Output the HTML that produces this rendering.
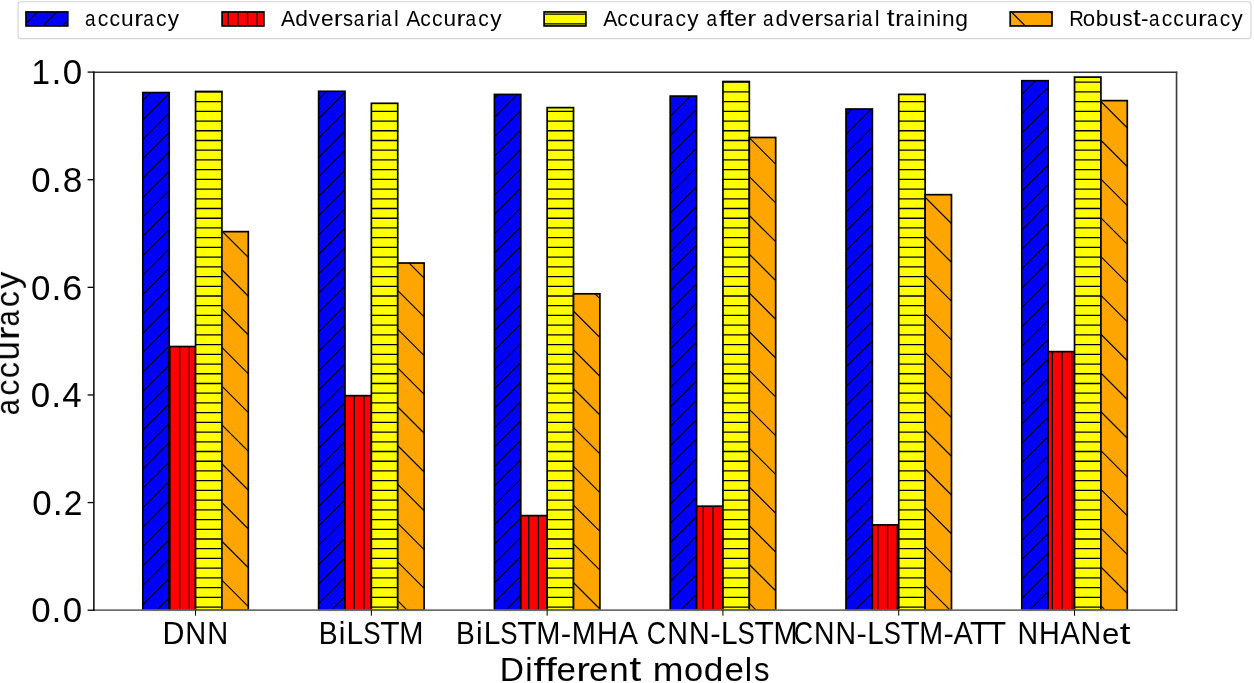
<!DOCTYPE html><html><head><meta charset="utf-8"><style>html,body{margin:0;padding:0;background:#fff;overflow:hidden}svg{display:block}text{font-kerning:none}</style></head><body><svg width="1254" height="683" viewBox="0 0 1254 683">
<rect width="1254" height="683" fill="#fff"/>
<rect x="18.1" y="1.7" width="1232.9" height="36.9" rx="2.5" fill="#fff" stroke="#d4d4d4" stroke-width="1.1"/>
<clipPath id="c0"><rect x="26.00" y="11.95" width="41.80" height="14.00"/></clipPath>
<rect x="26.00" y="11.95" width="41.80" height="14.00" fill="#0000ff"/>
<path clip-path="url(#c0)" d="M21.00 -10.30L72.80 -62.10M21.00 9.09L72.80 -42.71M21.00 28.49L72.80 -23.31M21.00 47.88L72.80 -3.92M21.00 67.28L72.80 15.48M21.00 86.67L72.80 34.87M21.00 106.06L72.80 54.26" stroke="#000" stroke-width="1.15" fill="none"/>
<rect x="26.00" y="11.95" width="41.80" height="14.00" fill="none" stroke="#000" stroke-width="1.7"/>
<clipPath id="c1"><rect x="222.10" y="11.95" width="41.80" height="14.00"/></clipPath>
<rect x="222.10" y="11.95" width="41.80" height="14.00" fill="#ff0000"/>
<path clip-path="url(#c1)" d="M228.13 9.95V27.95M237.83 9.95V27.95M247.52 9.95V27.95M257.22 9.95V27.95" stroke="#000" stroke-width="1.3" fill="none"/>
<rect x="222.10" y="11.95" width="41.80" height="14.00" fill="none" stroke="#000" stroke-width="1.7"/>
<clipPath id="c2"><rect x="544.10" y="11.95" width="41.80" height="14.00"/></clipPath>
<rect x="544.10" y="11.95" width="41.80" height="14.00" fill="#ffff00"/>
<path clip-path="url(#c2)" d="M542.10 14.12H587.90M542.10 23.84H587.90" stroke="#000" stroke-width="1.3" fill="none"/>
<rect x="544.10" y="11.95" width="41.80" height="14.00" fill="none" stroke="#000" stroke-width="1.7"/>
<clipPath id="c3"><rect x="1010.20" y="11.95" width="41.80" height="14.00"/></clipPath>
<rect x="1010.20" y="11.95" width="41.80" height="14.00" fill="#ffa500"/>
<path clip-path="url(#c3)" d="M1005.20 -110.55L1057.00 -58.75M1005.20 -71.76L1057.00 -19.96M1005.20 -32.98L1057.00 18.82M1005.20 5.81L1057.00 57.61M1005.20 44.60L1057.00 96.40M1005.20 83.39L1057.00 135.19" stroke="#000" stroke-width="1.15" fill="none"/>
<rect x="1010.20" y="11.95" width="41.80" height="14.00" fill="none" stroke="#000" stroke-width="1.7"/>
<clipPath id="c4"><rect x="142.82" y="92.55" width="26.37" height="517.65"/></clipPath>
<rect x="142.82" y="92.55" width="26.37" height="517.65" fill="#0000ff"/>
<path clip-path="url(#c4)" d="M137.82 66.82L174.19 30.45M137.82 86.21L174.19 49.84M137.82 105.61L174.19 69.24M137.82 125.00L174.19 88.63M137.82 144.39L174.19 108.02M137.82 163.79L174.19 127.42M137.82 183.18L174.19 146.81M137.82 202.58L174.19 166.21M137.82 221.97L174.19 185.60M137.82 241.36L174.19 204.99M137.82 260.76L174.19 224.39M137.82 280.15L174.19 243.78M137.82 299.55L174.19 263.18M137.82 318.94L174.19 282.57M137.82 338.33L174.19 301.96M137.82 357.73L174.19 321.36M137.82 377.12L174.19 340.75M137.82 396.52L174.19 360.15M137.82 415.91L174.19 379.54M137.82 435.30L174.19 398.93M137.82 454.70L174.19 418.33M137.82 474.09L174.19 437.72M137.82 493.49L174.19 457.12M137.82 512.88L174.19 476.51M137.82 532.27L174.19 495.90M137.82 551.67L174.19 515.30M137.82 571.06L174.19 534.69M137.82 590.46L174.19 554.09M137.82 609.85L174.19 573.48M137.82 629.24L174.19 592.87M137.82 648.64L174.19 612.27M137.82 668.03L174.19 631.66" stroke="#000" stroke-width="1.15" fill="none"/>
<rect x="142.82" y="92.55" width="26.37" height="517.65" fill="none" stroke="#000" stroke-width="1.7"/>
<clipPath id="c5"><rect x="318.62" y="91.31" width="26.37" height="518.89"/></clipPath>
<rect x="318.62" y="91.31" width="26.37" height="518.89" fill="#0000ff"/>
<path clip-path="url(#c5)" d="M313.62 65.57L349.99 29.20M313.62 84.96L349.99 48.59M313.62 104.36L349.99 67.99M313.62 123.75L349.99 87.38M313.62 143.14L349.99 106.77M313.62 162.54L349.99 126.17M313.62 181.93L349.99 145.56M313.62 201.33L349.99 164.96M313.62 220.72L349.99 184.35M313.62 240.11L349.99 203.74M313.62 259.51L349.99 223.14M313.62 278.90L349.99 242.53M313.62 298.30L349.99 261.93M313.62 317.69L349.99 281.32M313.62 337.08L349.99 300.71M313.62 356.48L349.99 320.11M313.62 375.87L349.99 339.50M313.62 395.27L349.99 358.90M313.62 414.66L349.99 378.29M313.62 434.05L349.99 397.68M313.62 453.45L349.99 417.08M313.62 472.84L349.99 436.47M313.62 492.24L349.99 455.87M313.62 511.63L349.99 475.26M313.62 531.02L349.99 494.65M313.62 550.42L349.99 514.05M313.62 569.81L349.99 533.44M313.62 589.21L349.99 552.84M313.62 608.60L349.99 572.23M313.62 627.99L349.99 591.62M313.62 647.39L349.99 611.02M313.62 666.78L349.99 630.41" stroke="#000" stroke-width="1.15" fill="none"/>
<rect x="318.62" y="91.31" width="26.37" height="518.89" fill="none" stroke="#000" stroke-width="1.7"/>
<clipPath id="c6"><rect x="494.41" y="94.43" width="26.37" height="515.77"/></clipPath>
<rect x="494.41" y="94.43" width="26.37" height="515.77" fill="#0000ff"/>
<path clip-path="url(#c6)" d="M489.41 64.32L525.78 27.95M489.41 83.71L525.78 47.34M489.41 103.11L525.78 66.74M489.41 122.50L525.78 86.13M489.41 141.89L525.78 105.53M489.41 161.29L525.78 124.92M489.41 180.68L525.78 144.31M489.41 200.08L525.78 163.71M489.41 219.47L525.78 183.10M489.41 238.86L525.78 202.50M489.41 258.26L525.78 221.89M489.41 277.65L525.78 241.28M489.41 297.05L525.78 260.68M489.41 316.44L525.78 280.07M489.41 335.83L525.78 299.47M489.41 355.23L525.78 318.86M489.41 374.62L525.78 338.25M489.41 394.02L525.78 357.65M489.41 413.41L525.78 377.04M489.41 432.80L525.78 396.44M489.41 452.20L525.78 415.83M489.41 471.59L525.78 435.22M489.41 490.99L525.78 454.62M489.41 510.38L525.78 474.01M489.41 529.77L525.78 493.41M489.41 549.17L525.78 512.80M489.41 568.56L525.78 532.19M489.41 587.96L525.78 551.59M489.41 607.35L525.78 570.98M489.41 626.74L525.78 590.38M489.41 646.14L525.78 609.77M489.41 665.53L525.78 629.16" stroke="#000" stroke-width="1.15" fill="none"/>
<rect x="494.41" y="94.43" width="26.37" height="515.77" fill="none" stroke="#000" stroke-width="1.7"/>
<clipPath id="c7"><rect x="670.21" y="96.10" width="26.37" height="514.10"/></clipPath>
<rect x="670.21" y="96.10" width="26.37" height="514.10" fill="#0000ff"/>
<path clip-path="url(#c7)" d="M665.21 63.07L701.58 26.70M665.21 82.46L701.58 46.09M665.21 101.86L701.58 65.49M665.21 121.25L701.58 84.88M665.21 140.64L701.58 104.28M665.21 160.04L701.58 123.67M665.21 179.43L701.58 143.06M665.21 198.83L701.58 162.46M665.21 218.22L701.58 181.85M665.21 237.61L701.58 201.25M665.21 257.01L701.58 220.64M665.21 276.40L701.58 240.03M665.21 295.80L701.58 259.43M665.21 315.19L701.58 278.82M665.21 334.58L701.58 298.22M665.21 353.98L701.58 317.61M665.21 373.37L701.58 337.00M665.21 392.77L701.58 356.40M665.21 412.16L701.58 375.79M665.21 431.55L701.58 395.19M665.21 450.95L701.58 414.58M665.21 470.34L701.58 433.97M665.21 489.74L701.58 453.37M665.21 509.13L701.58 472.76M665.21 528.52L701.58 492.16M665.21 547.92L701.58 511.55M665.21 567.31L701.58 530.94M665.21 586.71L701.58 550.34M665.21 606.10L701.58 569.73M665.21 625.49L701.58 589.13M665.21 644.89L701.58 608.52M665.21 664.28L701.58 627.91" stroke="#000" stroke-width="1.15" fill="none"/>
<rect x="670.21" y="96.10" width="26.37" height="514.10" fill="none" stroke="#000" stroke-width="1.7"/>
<clipPath id="c8"><rect x="846.00" y="109.01" width="26.37" height="501.19"/></clipPath>
<rect x="846.00" y="109.01" width="26.37" height="501.19" fill="#0000ff"/>
<path clip-path="url(#c8)" d="M841.00 81.21L877.37 44.84M841.00 100.61L877.37 64.24M841.00 120.00L877.37 83.63M841.00 139.40L877.37 103.03M841.00 158.79L877.37 122.42M841.00 178.18L877.37 141.81M841.00 197.58L877.37 161.21M841.00 216.97L877.37 180.60M841.00 236.37L877.37 200.00M841.00 255.76L877.37 219.39M841.00 275.15L877.37 238.78M841.00 294.55L877.37 258.18M841.00 313.94L877.37 277.57M841.00 333.34L877.37 296.97M841.00 352.73L877.37 316.36M841.00 372.12L877.37 335.75M841.00 391.52L877.37 355.15M841.00 410.91L877.37 374.54M841.00 430.31L877.37 393.94M841.00 449.70L877.37 413.33M841.00 469.09L877.37 432.72M841.00 488.49L877.37 452.12M841.00 507.88L877.37 471.51M841.00 527.28L877.37 490.91M841.00 546.67L877.37 510.30M841.00 566.06L877.37 529.69M841.00 585.46L877.37 549.09M841.00 604.85L877.37 568.48M841.00 624.25L877.37 587.88M841.00 643.64L877.37 607.27M841.00 663.03L877.37 626.66" stroke="#000" stroke-width="1.15" fill="none"/>
<rect x="846.00" y="109.01" width="26.37" height="501.19" fill="none" stroke="#000" stroke-width="1.7"/>
<clipPath id="c9"><rect x="1021.80" y="80.71" width="26.37" height="529.49"/></clipPath>
<rect x="1021.80" y="80.71" width="26.37" height="529.49" fill="#0000ff"/>
<path clip-path="url(#c9)" d="M1016.80 60.57L1053.17 24.20M1016.80 79.96L1053.17 43.59M1016.80 99.36L1053.17 62.99M1016.80 118.75L1053.17 82.38M1016.80 138.15L1053.17 101.78M1016.80 157.54L1053.17 121.17M1016.80 176.93L1053.17 140.56M1016.80 196.33L1053.17 159.96M1016.80 215.72L1053.17 179.35M1016.80 235.12L1053.17 198.75M1016.80 254.51L1053.17 218.14M1016.80 273.90L1053.17 237.53M1016.80 293.30L1053.17 256.93M1016.80 312.69L1053.17 276.32M1016.80 332.09L1053.17 295.72M1016.80 351.48L1053.17 315.11M1016.80 370.87L1053.17 334.50M1016.80 390.27L1053.17 353.90M1016.80 409.66L1053.17 373.29M1016.80 429.06L1053.17 392.69M1016.80 448.45L1053.17 412.08M1016.80 467.84L1053.17 431.47M1016.80 487.24L1053.17 450.87M1016.80 506.63L1053.17 470.26M1016.80 526.03L1053.17 489.66M1016.80 545.42L1053.17 509.05M1016.80 564.81L1053.17 528.44M1016.80 584.21L1053.17 547.84M1016.80 603.60L1053.17 567.23M1016.80 623.00L1053.17 586.63M1016.80 642.39L1053.17 606.02M1016.80 661.78L1053.17 625.41" stroke="#000" stroke-width="1.15" fill="none"/>
<rect x="1021.80" y="80.71" width="26.37" height="529.49" fill="none" stroke="#000" stroke-width="1.7"/>
<clipPath id="c10"><rect x="169.19" y="346.53" width="26.37" height="263.67"/></clipPath>
<rect x="169.19" y="346.53" width="26.37" height="263.67" fill="#ff0000"/>
<path clip-path="url(#c10)" d="M169.95 344.53V612.20M179.65 344.53V612.20M189.34 344.53V612.20" stroke="#000" stroke-width="1.3" fill="none"/>
<rect x="169.19" y="346.53" width="26.37" height="263.67" fill="none" stroke="#000" stroke-width="1.7"/>
<clipPath id="c11"><rect x="344.99" y="395.66" width="26.37" height="214.54"/></clipPath>
<rect x="344.99" y="395.66" width="26.37" height="214.54" fill="#ff0000"/>
<path clip-path="url(#c11)" d="M344.50 393.66V612.20M354.19 393.66V612.20M363.89 393.66V612.20" stroke="#000" stroke-width="1.3" fill="none"/>
<rect x="344.99" y="395.66" width="26.37" height="214.54" fill="none" stroke="#000" stroke-width="1.7"/>
<clipPath id="c12"><rect x="520.78" y="515.60" width="26.37" height="94.60"/></clipPath>
<rect x="520.78" y="515.60" width="26.37" height="94.60" fill="#ff0000"/>
<path clip-path="url(#c12)" d="M519.04 513.60V612.20M528.74 513.60V612.20M538.43 513.60V612.20M548.13 513.60V612.20" stroke="#000" stroke-width="1.3" fill="none"/>
<rect x="520.78" y="515.60" width="26.37" height="94.60" fill="none" stroke="#000" stroke-width="1.7"/>
<clipPath id="c13"><rect x="696.58" y="506.19" width="26.37" height="104.01"/></clipPath>
<rect x="696.58" y="506.19" width="26.37" height="104.01" fill="#ff0000"/>
<path clip-path="url(#c13)" d="M703.28 504.19V612.20M712.98 504.19V612.20M722.68 504.19V612.20" stroke="#000" stroke-width="1.3" fill="none"/>
<rect x="696.58" y="506.19" width="26.37" height="104.01" fill="none" stroke="#000" stroke-width="1.7"/>
<clipPath id="c14"><rect x="872.37" y="524.91" width="26.37" height="85.29"/></clipPath>
<rect x="872.37" y="524.91" width="26.37" height="85.29" fill="#ff0000"/>
<path clip-path="url(#c14)" d="M877.83 522.91V612.20M887.53 522.91V612.20M897.22 522.91V612.20" stroke="#000" stroke-width="1.3" fill="none"/>
<rect x="872.37" y="524.91" width="26.37" height="85.29" fill="none" stroke="#000" stroke-width="1.7"/>
<clipPath id="c15"><rect x="1048.17" y="351.64" width="26.37" height="258.56"/></clipPath>
<rect x="1048.17" y="351.64" width="26.37" height="258.56" fill="#ff0000"/>
<path clip-path="url(#c15)" d="M1052.38 349.64V612.20M1062.07 349.64V612.20M1071.77 349.64V612.20" stroke="#000" stroke-width="1.3" fill="none"/>
<rect x="1048.17" y="351.64" width="26.37" height="258.56" fill="none" stroke="#000" stroke-width="1.7"/>
<clipPath id="c16"><rect x="195.56" y="91.47" width="26.37" height="518.73"/></clipPath>
<rect x="195.56" y="91.47" width="26.37" height="518.73" fill="#ffff00"/>
<path clip-path="url(#c16)" d="M193.56 91.88H223.93M193.56 101.60H223.93M193.56 111.32H223.93M193.56 121.04H223.93M193.56 130.76H223.93M193.56 140.48H223.93M193.56 150.20H223.93M193.56 159.92H223.93M193.56 169.64H223.93M193.56 179.36H223.93M193.56 189.08H223.93M193.56 198.80H223.93M193.56 208.52H223.93M193.56 218.24H223.93M193.56 227.96H223.93M193.56 237.68H223.93M193.56 247.40H223.93M193.56 257.12H223.93M193.56 266.84H223.93M193.56 276.56H223.93M193.56 286.28H223.93M193.56 296.00H223.93M193.56 305.72H223.93M193.56 315.44H223.93M193.56 325.16H223.93M193.56 334.88H223.93M193.56 344.60H223.93M193.56 354.32H223.93M193.56 364.04H223.93M193.56 373.76H223.93M193.56 383.48H223.93M193.56 393.20H223.93M193.56 402.92H223.93M193.56 412.64H223.93M193.56 422.36H223.93M193.56 432.08H223.93M193.56 441.80H223.93M193.56 451.52H223.93M193.56 461.24H223.93M193.56 470.96H223.93M193.56 480.68H223.93M193.56 490.40H223.93M193.56 500.12H223.93M193.56 509.84H223.93M193.56 519.56H223.93M193.56 529.28H223.93M193.56 539.00H223.93M193.56 548.72H223.93M193.56 558.44H223.93M193.56 568.16H223.93M193.56 577.88H223.93M193.56 587.60H223.93M193.56 597.32H223.93M193.56 607.04H223.93" stroke="#000" stroke-width="1.3" fill="none"/>
<rect x="195.56" y="91.47" width="26.37" height="518.73" fill="none" stroke="#000" stroke-width="1.7"/>
<clipPath id="c17"><rect x="371.36" y="103.31" width="26.37" height="506.89"/></clipPath>
<rect x="371.36" y="103.31" width="26.37" height="506.89" fill="#ffff00"/>
<path clip-path="url(#c17)" d="M369.36 101.60H399.73M369.36 111.32H399.73M369.36 121.04H399.73M369.36 130.76H399.73M369.36 140.48H399.73M369.36 150.20H399.73M369.36 159.92H399.73M369.36 169.64H399.73M369.36 179.36H399.73M369.36 189.08H399.73M369.36 198.80H399.73M369.36 208.52H399.73M369.36 218.24H399.73M369.36 227.96H399.73M369.36 237.68H399.73M369.36 247.40H399.73M369.36 257.12H399.73M369.36 266.84H399.73M369.36 276.56H399.73M369.36 286.28H399.73M369.36 296.00H399.73M369.36 305.72H399.73M369.36 315.44H399.73M369.36 325.16H399.73M369.36 334.88H399.73M369.36 344.60H399.73M369.36 354.32H399.73M369.36 364.04H399.73M369.36 373.76H399.73M369.36 383.48H399.73M369.36 393.20H399.73M369.36 402.92H399.73M369.36 412.64H399.73M369.36 422.36H399.73M369.36 432.08H399.73M369.36 441.80H399.73M369.36 451.52H399.73M369.36 461.24H399.73M369.36 470.96H399.73M369.36 480.68H399.73M369.36 490.40H399.73M369.36 500.12H399.73M369.36 509.84H399.73M369.36 519.56H399.73M369.36 529.28H399.73M369.36 539.00H399.73M369.36 548.72H399.73M369.36 558.44H399.73M369.36 568.16H399.73M369.36 577.88H399.73M369.36 587.60H399.73M369.36 597.32H399.73M369.36 607.04H399.73" stroke="#000" stroke-width="1.3" fill="none"/>
<rect x="371.36" y="103.31" width="26.37" height="506.89" fill="none" stroke="#000" stroke-width="1.7"/>
<clipPath id="c18"><rect x="547.15" y="107.61" width="26.37" height="502.59"/></clipPath>
<rect x="547.15" y="107.61" width="26.37" height="502.59" fill="#ffff00"/>
<path clip-path="url(#c18)" d="M545.15 111.32H575.52M545.15 121.04H575.52M545.15 130.76H575.52M545.15 140.48H575.52M545.15 150.20H575.52M545.15 159.92H575.52M545.15 169.64H575.52M545.15 179.36H575.52M545.15 189.08H575.52M545.15 198.80H575.52M545.15 208.52H575.52M545.15 218.24H575.52M545.15 227.96H575.52M545.15 237.68H575.52M545.15 247.40H575.52M545.15 257.12H575.52M545.15 266.84H575.52M545.15 276.56H575.52M545.15 286.28H575.52M545.15 296.00H575.52M545.15 305.72H575.52M545.15 315.44H575.52M545.15 325.16H575.52M545.15 334.88H575.52M545.15 344.60H575.52M545.15 354.32H575.52M545.15 364.04H575.52M545.15 373.76H575.52M545.15 383.48H575.52M545.15 393.20H575.52M545.15 402.92H575.52M545.15 412.64H575.52M545.15 422.36H575.52M545.15 432.08H575.52M545.15 441.80H575.52M545.15 451.52H575.52M545.15 461.24H575.52M545.15 470.96H575.52M545.15 480.68H575.52M545.15 490.40H575.52M545.15 500.12H575.52M545.15 509.84H575.52M545.15 519.56H575.52M545.15 529.28H575.52M545.15 539.00H575.52M545.15 548.72H575.52M545.15 558.44H575.52M545.15 568.16H575.52M545.15 577.88H575.52M545.15 587.60H575.52M545.15 597.32H575.52M545.15 607.04H575.52" stroke="#000" stroke-width="1.3" fill="none"/>
<rect x="547.15" y="107.61" width="26.37" height="502.59" fill="none" stroke="#000" stroke-width="1.7"/>
<clipPath id="c19"><rect x="722.95" y="81.52" width="26.37" height="528.68"/></clipPath>
<rect x="722.95" y="81.52" width="26.37" height="528.68" fill="#ffff00"/>
<path clip-path="url(#c19)" d="M720.95 82.16H751.32M720.95 91.88H751.32M720.95 101.60H751.32M720.95 111.32H751.32M720.95 121.04H751.32M720.95 130.76H751.32M720.95 140.48H751.32M720.95 150.20H751.32M720.95 159.92H751.32M720.95 169.64H751.32M720.95 179.36H751.32M720.95 189.08H751.32M720.95 198.80H751.32M720.95 208.52H751.32M720.95 218.24H751.32M720.95 227.96H751.32M720.95 237.68H751.32M720.95 247.40H751.32M720.95 257.12H751.32M720.95 266.84H751.32M720.95 276.56H751.32M720.95 286.28H751.32M720.95 296.00H751.32M720.95 305.72H751.32M720.95 315.44H751.32M720.95 325.16H751.32M720.95 334.88H751.32M720.95 344.60H751.32M720.95 354.32H751.32M720.95 364.04H751.32M720.95 373.76H751.32M720.95 383.48H751.32M720.95 393.20H751.32M720.95 402.92H751.32M720.95 412.64H751.32M720.95 422.36H751.32M720.95 432.08H751.32M720.95 441.80H751.32M720.95 451.52H751.32M720.95 461.24H751.32M720.95 470.96H751.32M720.95 480.68H751.32M720.95 490.40H751.32M720.95 500.12H751.32M720.95 509.84H751.32M720.95 519.56H751.32M720.95 529.28H751.32M720.95 539.00H751.32M720.95 548.72H751.32M720.95 558.44H751.32M720.95 568.16H751.32M720.95 577.88H751.32M720.95 587.60H751.32M720.95 597.32H751.32M720.95 607.04H751.32" stroke="#000" stroke-width="1.3" fill="none"/>
<rect x="722.95" y="81.52" width="26.37" height="528.68" fill="none" stroke="#000" stroke-width="1.7"/>
<clipPath id="c20"><rect x="898.74" y="94.38" width="26.37" height="515.82"/></clipPath>
<rect x="898.74" y="94.38" width="26.37" height="515.82" fill="#ffff00"/>
<path clip-path="url(#c20)" d="M896.74 101.60H927.11M896.74 111.32H927.11M896.74 121.04H927.11M896.74 130.76H927.11M896.74 140.48H927.11M896.74 150.20H927.11M896.74 159.92H927.11M896.74 169.64H927.11M896.74 179.36H927.11M896.74 189.08H927.11M896.74 198.80H927.11M896.74 208.52H927.11M896.74 218.24H927.11M896.74 227.96H927.11M896.74 237.68H927.11M896.74 247.40H927.11M896.74 257.12H927.11M896.74 266.84H927.11M896.74 276.56H927.11M896.74 286.28H927.11M896.74 296.00H927.11M896.74 305.72H927.11M896.74 315.44H927.11M896.74 325.16H927.11M896.74 334.88H927.11M896.74 344.60H927.11M896.74 354.32H927.11M896.74 364.04H927.11M896.74 373.76H927.11M896.74 383.48H927.11M896.74 393.20H927.11M896.74 402.92H927.11M896.74 412.64H927.11M896.74 422.36H927.11M896.74 432.08H927.11M896.74 441.80H927.11M896.74 451.52H927.11M896.74 461.24H927.11M896.74 470.96H927.11M896.74 480.68H927.11M896.74 490.40H927.11M896.74 500.12H927.11M896.74 509.84H927.11M896.74 519.56H927.11M896.74 529.28H927.11M896.74 539.00H927.11M896.74 548.72H927.11M896.74 558.44H927.11M896.74 568.16H927.11M896.74 577.88H927.11M896.74 587.60H927.11M896.74 597.32H927.11M896.74 607.04H927.11" stroke="#000" stroke-width="1.3" fill="none"/>
<rect x="898.74" y="94.38" width="26.37" height="515.82" fill="none" stroke="#000" stroke-width="1.7"/>
<clipPath id="c21"><rect x="1074.54" y="77.10" width="26.37" height="533.10"/></clipPath>
<rect x="1074.54" y="77.10" width="26.37" height="533.10" fill="#ffff00"/>
<path clip-path="url(#c21)" d="M1072.54 82.16H1102.91M1072.54 91.88H1102.91M1072.54 101.60H1102.91M1072.54 111.32H1102.91M1072.54 121.04H1102.91M1072.54 130.76H1102.91M1072.54 140.48H1102.91M1072.54 150.20H1102.91M1072.54 159.92H1102.91M1072.54 169.64H1102.91M1072.54 179.36H1102.91M1072.54 189.08H1102.91M1072.54 198.80H1102.91M1072.54 208.52H1102.91M1072.54 218.24H1102.91M1072.54 227.96H1102.91M1072.54 237.68H1102.91M1072.54 247.40H1102.91M1072.54 257.12H1102.91M1072.54 266.84H1102.91M1072.54 276.56H1102.91M1072.54 286.28H1102.91M1072.54 296.00H1102.91M1072.54 305.72H1102.91M1072.54 315.44H1102.91M1072.54 325.16H1102.91M1072.54 334.88H1102.91M1072.54 344.60H1102.91M1072.54 354.32H1102.91M1072.54 364.04H1102.91M1072.54 373.76H1102.91M1072.54 383.48H1102.91M1072.54 393.20H1102.91M1072.54 402.92H1102.91M1072.54 412.64H1102.91M1072.54 422.36H1102.91M1072.54 432.08H1102.91M1072.54 441.80H1102.91M1072.54 451.52H1102.91M1072.54 461.24H1102.91M1072.54 470.96H1102.91M1072.54 480.68H1102.91M1072.54 490.40H1102.91M1072.54 500.12H1102.91M1072.54 509.84H1102.91M1072.54 519.56H1102.91M1072.54 529.28H1102.91M1072.54 539.00H1102.91M1072.54 548.72H1102.91M1072.54 558.44H1102.91M1072.54 568.16H1102.91M1072.54 577.88H1102.91M1072.54 587.60H1102.91M1072.54 597.32H1102.91M1072.54 607.04H1102.91" stroke="#000" stroke-width="1.3" fill="none"/>
<rect x="1074.54" y="77.10" width="26.37" height="533.10" fill="none" stroke="#000" stroke-width="1.7"/>
<clipPath id="c22"><rect x="221.93" y="231.65" width="26.37" height="378.55"/></clipPath>
<rect x="221.93" y="231.65" width="26.37" height="378.55" fill="#ffa500"/>
<path clip-path="url(#c22)" d="M216.93 148.45L253.30 184.82M216.93 187.24L253.30 223.61M216.93 226.03L253.30 262.40M216.93 264.82L253.30 301.19M216.93 303.61L253.30 339.98M216.93 342.39L253.30 378.76M216.93 381.18L253.30 417.55M216.93 419.97L253.30 456.34M216.93 458.76L253.30 495.13M216.93 497.55L253.30 533.92M216.93 536.33L253.30 572.70M216.93 575.12L253.30 611.49M216.93 613.91L253.30 650.28M216.93 652.70L253.30 689.07" stroke="#000" stroke-width="1.15" fill="none"/>
<rect x="221.93" y="231.65" width="26.37" height="378.55" fill="none" stroke="#000" stroke-width="1.7"/>
<clipPath id="c23"><rect x="397.73" y="263.02" width="26.37" height="347.18"/></clipPath>
<rect x="397.73" y="263.02" width="26.37" height="347.18" fill="#ffa500"/>
<path clip-path="url(#c23)" d="M392.73 169.10L429.10 205.47M392.73 207.89L429.10 244.26M392.73 246.67L429.10 283.04M392.73 285.46L429.10 321.83M392.73 324.25L429.10 360.62M392.73 363.04L429.10 399.41M392.73 401.83L429.10 438.20M392.73 440.61L429.10 476.98M392.73 479.40L429.10 515.77M392.73 518.19L429.10 554.56M392.73 556.98L429.10 593.35M392.73 595.77L429.10 632.14M392.73 634.55L429.10 670.92M392.73 673.34L429.10 709.71" stroke="#000" stroke-width="1.15" fill="none"/>
<rect x="397.73" y="263.02" width="26.37" height="347.18" fill="none" stroke="#000" stroke-width="1.7"/>
<clipPath id="c24"><rect x="573.52" y="293.80" width="26.37" height="316.40"/></clipPath>
<rect x="573.52" y="293.80" width="26.37" height="316.40" fill="#ffa500"/>
<path clip-path="url(#c24)" d="M568.52 189.74L604.89 226.11M568.52 228.53L604.89 264.90M568.52 267.32L604.89 303.69M568.52 306.11L604.89 342.47M568.52 344.89L604.89 381.26M568.52 383.68L604.89 420.05M568.52 422.47L604.89 458.84M568.52 461.26L604.89 497.63M568.52 500.05L604.89 536.41M568.52 538.83L604.89 575.20M568.52 577.62L604.89 613.99M568.52 616.41L604.89 652.78M568.52 655.20L604.89 691.57" stroke="#000" stroke-width="1.15" fill="none"/>
<rect x="573.52" y="293.80" width="26.37" height="316.40" fill="none" stroke="#000" stroke-width="1.7"/>
<clipPath id="c25"><rect x="749.32" y="137.48" width="26.37" height="472.72"/></clipPath>
<rect x="749.32" y="137.48" width="26.37" height="472.72" fill="#ffa500"/>
<path clip-path="url(#c25)" d="M744.32 55.23L780.69 91.60M744.32 94.02L780.69 130.39M744.32 132.81L780.69 169.18M744.32 171.60L780.69 207.97M744.32 210.39L780.69 246.75M744.32 249.17L780.69 285.54M744.32 287.96L780.69 324.33M744.32 326.75L780.69 363.12M744.32 365.54L780.69 401.91M744.32 404.33L780.69 440.69M744.32 443.11L780.69 479.48M744.32 481.90L780.69 518.27M744.32 520.69L780.69 557.06M744.32 559.48L780.69 595.85M744.32 598.27L780.69 634.63M744.32 637.05L780.69 673.42M744.32 675.84L780.69 712.21" stroke="#000" stroke-width="1.15" fill="none"/>
<rect x="749.32" y="137.48" width="26.37" height="472.72" fill="none" stroke="#000" stroke-width="1.7"/>
<clipPath id="c26"><rect x="925.11" y="194.68" width="26.37" height="415.52"/></clipPath>
<rect x="925.11" y="194.68" width="26.37" height="415.52" fill="#ffa500"/>
<path clip-path="url(#c26)" d="M920.11 114.66L956.48 151.03M920.11 153.45L956.48 189.82M920.11 192.24L956.48 228.61M920.11 231.03L956.48 267.40M920.11 269.82L956.48 306.19M920.11 308.60L956.48 344.97M920.11 347.39L956.48 383.76M920.11 386.18L956.48 422.55M920.11 424.97L956.48 461.34M920.11 463.76L956.48 500.13M920.11 502.54L956.48 538.91M920.11 541.33L956.48 577.70M920.11 580.12L956.48 616.49M920.11 618.91L956.48 655.28M920.11 657.70L956.48 694.07" stroke="#000" stroke-width="1.15" fill="none"/>
<rect x="925.11" y="194.68" width="26.37" height="415.52" fill="none" stroke="#000" stroke-width="1.7"/>
<clipPath id="c27"><rect x="1100.91" y="100.62" width="26.37" height="509.58"/></clipPath>
<rect x="1100.91" y="100.62" width="26.37" height="509.58" fill="#ffa500"/>
<path clip-path="url(#c27)" d="M1095.91 18.94L1132.28 55.31M1095.91 57.73L1132.28 94.10M1095.91 96.52L1132.28 132.89M1095.91 135.31L1132.28 171.68M1095.91 174.10L1132.28 210.47M1095.91 212.88L1132.28 249.25M1095.91 251.67L1132.28 288.04M1095.91 290.46L1132.28 326.83M1095.91 329.25L1132.28 365.62M1095.91 368.04L1132.28 404.41M1095.91 406.82L1132.28 443.19M1095.91 445.61L1132.28 481.98M1095.91 484.40L1132.28 520.77M1095.91 523.19L1132.28 559.56M1095.91 561.98L1132.28 598.35M1095.91 600.76L1132.28 637.13M1095.91 639.55L1132.28 675.92M1095.91 678.34L1132.28 714.71" stroke="#000" stroke-width="1.15" fill="none"/>
<rect x="1100.91" y="100.62" width="26.37" height="509.58" fill="none" stroke="#000" stroke-width="1.7"/>
<line x1="93.00" y1="72.25" x2="1177.30" y2="72.25" stroke="#333" stroke-width="1.6"/>
<line x1="93.00" y1="610.10" x2="1177.30" y2="610.10" stroke="#6e6e6e" stroke-width="1.6"/>
<line x1="93.85" y1="71.50" x2="93.85" y2="610.90" stroke="#111" stroke-width="1.6"/>
<line x1="1176.55" y1="71.50" x2="1176.55" y2="610.90" stroke="#3a3a3a" stroke-width="1.6"/>
<line x1="87.60" y1="610.20" x2="93.60" y2="610.20" stroke="#000" stroke-width="1.3"/>
<line x1="87.60" y1="502.58" x2="93.60" y2="502.58" stroke="#000" stroke-width="1.3"/>
<line x1="87.60" y1="394.96" x2="93.60" y2="394.96" stroke="#000" stroke-width="1.3"/>
<line x1="87.60" y1="287.34" x2="93.60" y2="287.34" stroke="#000" stroke-width="1.3"/>
<line x1="87.60" y1="179.72" x2="93.60" y2="179.72" stroke="#000" stroke-width="1.3"/>
<line x1="87.60" y1="72.10" x2="93.60" y2="72.10" stroke="#000" stroke-width="1.3"/>
<line x1="195.56" y1="610.20" x2="195.56" y2="615.70" stroke="#000" stroke-width="1"/>
<line x1="371.36" y1="610.20" x2="371.36" y2="615.70" stroke="#000" stroke-width="1"/>
<line x1="547.15" y1="610.20" x2="547.15" y2="615.70" stroke="#000" stroke-width="1"/>
<line x1="722.95" y1="610.20" x2="722.95" y2="615.70" stroke="#000" stroke-width="1"/>
<line x1="898.74" y1="610.20" x2="898.74" y2="615.70" stroke="#000" stroke-width="1"/>
<line x1="1074.54" y1="610.20" x2="1074.54" y2="615.70" stroke="#000" stroke-width="1"/>
<g font-family="Liberation Sans, sans-serif" fill="#000" style="filter:grayscale(1)">
<text transform="translate(85.09 26.40) scale(0.8857 1.0408)" font-size="21.40">a</text>
<text transform="translate(97.81 26.40) scale(0.9883 1.0408)" font-size="21.40">c</text>
<text transform="translate(109.40 26.40) scale(0.9883 1.0408)" font-size="21.40">c</text>
<text transform="translate(121.04 26.40) scale(1.0619 1.0601)" font-size="21.40">u</text>
<text transform="translate(134.21 26.40) scale(1.2619 1.0408)" font-size="21.40">r</text>
<text transform="translate(143.21 26.40) scale(0.8857 1.0408)" font-size="21.40">a</text>
<text transform="translate(155.93 26.40) scale(0.9883 1.0408)" font-size="21.40">c</text>
<text transform="translate(167.83 26.40) scale(1.0577 1.0351)" font-size="21.40">y</text>
<text transform="translate(281.06 26.40) scale(0.9897 1.0596)" font-size="21.40">A</text>
<text transform="translate(295.15 26.40) scale(1.0678 1.0485)" font-size="21.40">d</text>
<text transform="translate(308.84 26.40) scale(1.0602 1.0351)" font-size="21.40">v</text>
<text transform="translate(320.93 26.40) scale(1.0611 1.0408)" font-size="21.40">e</text>
<text transform="translate(333.79 26.40) scale(1.2587 1.0408)" font-size="21.40">r</text>
<text transform="translate(342.89 26.40) scale(0.9417 1.0437)" font-size="21.40">s</text>
<text transform="translate(353.73 26.40) scale(0.8834 1.0408)" font-size="21.40">a</text>
<text transform="translate(366.27 26.40) scale(1.2587 1.0408)" font-size="21.40">r</text>
<text transform="translate(375.34 26.40) scale(1.0043 1.0485)" font-size="21.40">i</text>
<text transform="translate(381.09 26.40) scale(0.8834 1.0408)" font-size="21.40">a</text>
<text transform="translate(394.05 26.40) scale(1.0043 1.0485)" font-size="21.40">l</text>
<text transform="translate(406.17 26.40) scale(0.9897 1.0596)" font-size="21.40">A</text>
<text transform="translate(420.32 26.40) scale(0.9858 1.0408)" font-size="21.40">c</text>
<text transform="translate(431.88 26.40) scale(0.9858 1.0408)" font-size="21.40">c</text>
<text transform="translate(443.49 26.40) scale(1.0592 1.0601)" font-size="21.40">u</text>
<text transform="translate(456.62 26.40) scale(1.2587 1.0408)" font-size="21.40">r</text>
<text transform="translate(465.60 26.40) scale(0.8834 1.0408)" font-size="21.40">a</text>
<text transform="translate(478.29 26.40) scale(0.9858 1.0408)" font-size="21.40">c</text>
<text transform="translate(490.16 26.40) scale(1.0550 1.0351)" font-size="21.40">y</text>
<text transform="translate(603.16 26.40) scale(0.9917 1.0596)" font-size="21.40">A</text>
<text transform="translate(617.34 26.40) scale(0.9878 1.0408)" font-size="21.40">c</text>
<text transform="translate(628.93 26.40) scale(0.9878 1.0408)" font-size="21.40">c</text>
<text transform="translate(640.56 26.40) scale(1.0614 1.0601)" font-size="21.40">u</text>
<text transform="translate(653.72 26.40) scale(1.2614 1.0408)" font-size="21.40">r</text>
<text transform="translate(662.72 26.40) scale(0.8853 1.0408)" font-size="21.40">a</text>
<text transform="translate(675.43 26.40) scale(0.9878 1.0408)" font-size="21.40">c</text>
<text transform="translate(687.32 26.40) scale(1.0572 1.0351)" font-size="21.40">y</text>
<text transform="translate(706.38 26.40) scale(0.8853 1.0408)" font-size="21.40">a</text>
<text transform="translate(718.92 26.40) scale(1.2927 1.0499)" font-size="21.40">f</text>
<text transform="translate(726.01 26.40) scale(1.3158 1.0861)" font-size="21.40">t</text>
<text transform="translate(734.33 26.40) scale(1.0634 1.0408)" font-size="21.40">e</text>
<text transform="translate(747.22 26.40) scale(1.2614 1.0408)" font-size="21.40">r</text>
<text transform="translate(762.92 26.40) scale(0.8853 1.0408)" font-size="21.40">a</text>
<text transform="translate(775.57 26.40) scale(1.0700 1.0485)" font-size="21.40">d</text>
<text transform="translate(789.29 26.40) scale(1.0625 1.0351)" font-size="21.40">v</text>
<text transform="translate(801.40 26.40) scale(1.0634 1.0408)" font-size="21.40">e</text>
<text transform="translate(814.29 26.40) scale(1.2614 1.0408)" font-size="21.40">r</text>
<text transform="translate(823.41 26.40) scale(0.9437 1.0437)" font-size="21.40">s</text>
<text transform="translate(834.27 26.40) scale(0.8853 1.0408)" font-size="21.40">a</text>
<text transform="translate(846.84 26.40) scale(1.2614 1.0408)" font-size="21.40">r</text>
<text transform="translate(855.93 26.40) scale(1.0064 1.0485)" font-size="21.40">i</text>
<text transform="translate(861.69 26.40) scale(0.8853 1.0408)" font-size="21.40">a</text>
<text transform="translate(874.68 26.40) scale(1.0064 1.0485)" font-size="21.40">l</text>
<text transform="translate(886.83 26.40) scale(1.3158 1.0861)" font-size="21.40">t</text>
<text transform="translate(895.08 26.40) scale(1.2614 1.0408)" font-size="21.40">r</text>
<text transform="translate(904.08 26.40) scale(0.8853 1.0408)" font-size="21.40">a</text>
<text transform="translate(917.07 26.40) scale(1.0064 1.0485)" font-size="21.40">i</text>
<text transform="translate(922.79 26.40) scale(1.0614 1.0408)" font-size="21.40">n</text>
<text transform="translate(936.28 26.40) scale(1.0064 1.0485)" font-size="21.40">i</text>
<text transform="translate(941.99 26.40) scale(1.0614 1.0408)" font-size="21.40">n</text>
<text transform="translate(955.14 26.40) scale(1.0700 1.0437)" font-size="21.40">g</text>
<text transform="translate(1069.25 26.40) scale(0.9377 1.0596)" font-size="21.40">R</text>
<text transform="translate(1082.70 26.40) scale(1.0423 1.0408)" font-size="21.40">o</text>
<text transform="translate(1095.75 26.40) scale(1.0667 1.0485)" font-size="21.40">b</text>
<text transform="translate(1108.95 26.40) scale(1.0571 1.0601)" font-size="21.40">u</text>
<text transform="translate(1122.51 26.40) scale(0.9398 1.0437)" font-size="21.40">s</text>
<text transform="translate(1133.00 26.40) scale(1.3104 1.0861)" font-size="21.40">t</text>
<text transform="translate(1141.11 26.40) scale(1.0569 1.0304)" font-size="21.40">-</text>
<text transform="translate(1149.12 26.40) scale(0.8817 1.0408)" font-size="21.40">a</text>
<text transform="translate(1161.78 26.40) scale(0.9838 1.0408)" font-size="21.40">c</text>
<text transform="translate(1173.32 26.40) scale(0.9838 1.0408)" font-size="21.40">c</text>
<text transform="translate(1184.90 26.40) scale(1.0571 1.0601)" font-size="21.40">u</text>
<text transform="translate(1198.01 26.40) scale(1.2562 1.0408)" font-size="21.40">r</text>
<text transform="translate(1206.97 26.40) scale(0.8817 1.0408)" font-size="21.40">a</text>
<text transform="translate(1219.64 26.40) scale(0.9838 1.0408)" font-size="21.40">c</text>
<text transform="translate(1231.48 26.40) scale(1.0529 1.0351)" font-size="21.40">y</text>
<text transform="translate(31.14 622.40) scale(1.0789 1.0629)" font-size="32.30">0</text>
<text transform="translate(51.62 622.40) scale(1.1075 1.1598)" font-size="32.30">.</text>
<text transform="translate(62.68 622.40) scale(1.0789 1.0629)" font-size="32.30">0</text>
<text transform="translate(32.25 514.78) scale(1.0789 1.0629)" font-size="32.30">0</text>
<text transform="translate(52.74 514.78) scale(1.1075 1.1598)" font-size="32.30">.</text>
<text transform="translate(63.71 514.78) scale(1.0400 1.0629)" font-size="32.30">2</text>
<text transform="translate(30.80 407.16) scale(1.0789 1.0629)" font-size="32.30">0</text>
<text transform="translate(51.28 407.16) scale(1.1075 1.1598)" font-size="32.30">.</text>
<text transform="translate(62.34 407.16) scale(1.0791 1.0596)" font-size="32.30">4</text>
<text transform="translate(31.02 299.54) scale(1.0789 1.0629)" font-size="32.30">0</text>
<text transform="translate(51.51 299.54) scale(1.1075 1.1598)" font-size="32.30">.</text>
<text transform="translate(62.23 299.54) scale(1.1167 1.0629)" font-size="32.30">6</text>
<text transform="translate(31.20 191.92) scale(1.0789 1.0629)" font-size="32.30">0</text>
<text transform="translate(51.69 191.92) scale(1.1075 1.1598)" font-size="32.30">.</text>
<text transform="translate(62.64 191.92) scale(1.0906 1.0629)" font-size="32.30">8</text>
<text transform="translate(31.42 84.30) scale(1.0305 1.0596)" font-size="32.30">1</text>
<text transform="translate(51.62 84.30) scale(1.1075 1.1598)" font-size="32.30">.</text>
<text transform="translate(62.68 84.30) scale(1.0789 1.0629)" font-size="32.30">0</text>
<text transform="translate(162.61 643.80) scale(1.0408 1.0596)" font-size="29.20">D</text>
<text transform="translate(185.34 643.80) scale(0.9937 1.0596)" font-size="29.20">N</text>
<text transform="translate(207.31 643.80) scale(0.9937 1.0596)" font-size="29.20">N</text>
<text transform="translate(318.68 643.80) scale(0.9690 1.0596)" font-size="29.20">B</text>
<text transform="translate(338.87 643.80) scale(1.0196 1.0485)" font-size="29.20">i</text>
<text transform="translate(346.61 643.80) scale(1.0261 1.0596)" font-size="29.20">L</text>
<text transform="translate(363.18 643.80) scale(0.8891 1.0629)" font-size="29.20">S</text>
<text transform="translate(380.13 643.80) scale(1.0878 1.0596)" font-size="29.20">T</text>
<text transform="translate(399.19 643.80) scale(0.9945 1.0596)" font-size="29.20">M</text>
<text transform="translate(455.88 643.80) scale(0.9671 1.0596)" font-size="29.20">B</text>
<text transform="translate(476.04 643.80) scale(1.0175 1.0485)" font-size="29.20">i</text>
<text transform="translate(483.76 643.80) scale(1.0240 1.0596)" font-size="29.20">L</text>
<text transform="translate(500.30 643.80) scale(0.8873 1.0629)" font-size="29.20">S</text>
<text transform="translate(517.21 643.80) scale(1.0856 1.0596)" font-size="29.20">T</text>
<text transform="translate(536.23 643.80) scale(0.9925 1.0596)" font-size="29.20">M</text>
<text transform="translate(560.86 643.80) scale(1.0730 1.0304)" font-size="29.20">-</text>
<text transform="translate(571.80 643.80) scale(0.9925 1.0596)" font-size="29.20">M</text>
<text transform="translate(596.88 643.80) scale(0.9902 1.0596)" font-size="29.20">H</text>
<text transform="translate(618.43 643.80) scale(1.0027 1.0596)" font-size="29.20">A</text>
<text transform="translate(646.83 643.80) scale(0.9217 1.0629)" font-size="29.20">C</text>
<text transform="translate(667.31 643.80) scale(0.9807 1.0596)" font-size="29.20">N</text>
<text transform="translate(689.00 643.80) scale(0.9807 1.0596)" font-size="29.20">N</text>
<text transform="translate(710.22 643.80) scale(1.0703 1.0304)" font-size="29.20">-</text>
<text transform="translate(721.05 643.80) scale(1.0215 1.0596)" font-size="29.20">L</text>
<text transform="translate(737.54 643.80) scale(0.8851 1.0629)" font-size="29.20">S</text>
<text transform="translate(754.41 643.80) scale(1.0829 1.0596)" font-size="29.20">T</text>
<text transform="translate(773.39 643.80) scale(0.9900 1.0596)" font-size="29.20">M</text>
<text transform="translate(793.64 643.80) scale(0.9146 1.0629)" font-size="29.20">C</text>
<text transform="translate(813.96 643.80) scale(0.9732 1.0596)" font-size="29.20">N</text>
<text transform="translate(835.49 643.80) scale(0.9732 1.0596)" font-size="29.20">N</text>
<text transform="translate(856.54 643.80) scale(1.0621 1.0304)" font-size="29.20">-</text>
<text transform="translate(867.29 643.80) scale(1.0136 1.0596)" font-size="29.20">L</text>
<text transform="translate(883.65 643.80) scale(0.8783 1.0629)" font-size="29.20">S</text>
<text transform="translate(900.40 643.80) scale(1.0746 1.0596)" font-size="29.20">T</text>
<text transform="translate(919.23 643.80) scale(0.9824 1.0596)" font-size="29.20">M</text>
<text transform="translate(943.61 643.80) scale(1.0621 1.0304)" font-size="29.20">-</text>
<text transform="translate(953.50 643.80) scale(0.9925 1.0596)" font-size="29.20">A</text>
<text transform="translate(969.99 643.80) scale(1.0746 1.0596)" font-size="29.20">T</text>
<text transform="translate(987.05 643.80) scale(1.0746 1.0596)" font-size="29.20">T</text>
<text transform="translate(1017.46 643.80) scale(0.9783 1.0596)" font-size="29.20">N</text>
<text transform="translate(1039.07 643.80) scale(0.9852 1.0596)" font-size="29.20">H</text>
<text transform="translate(1060.51 643.80) scale(0.9977 1.0596)" font-size="29.20">A</text>
<text transform="translate(1080.62 643.80) scale(0.9783 1.0596)" font-size="29.20">N</text>
<text transform="translate(1102.03 643.80) scale(1.0698 1.0408)" font-size="29.20">e</text>
<text transform="translate(1119.74 643.80) scale(1.3237 1.0861)" font-size="29.20">t</text>
<text transform="translate(499.85 680.90) scale(1.0505 1.0596)" font-size="31.90">D</text>
<text transform="translate(525.20 680.90) scale(1.0379 1.0485)" font-size="31.90">i</text>
<text transform="translate(533.50 680.90) scale(1.3332 1.0499)" font-size="31.90">f</text>
<text transform="translate(544.91 680.90) scale(1.3332 1.0499)" font-size="31.90">f</text>
<text transform="translate(556.47 680.90) scale(1.0967 1.0408)" font-size="31.90">e</text>
<text transform="translate(576.28 680.90) scale(1.3009 1.0408)" font-size="31.90">r</text>
<text transform="translate(589.00 680.90) scale(1.0967 1.0408)" font-size="31.90">e</text>
<text transform="translate(609.25 680.90) scale(1.0947 1.0408)" font-size="31.90">n</text>
<text transform="translate(629.37 680.90) scale(1.3571 1.0861)" font-size="31.90">t</text>
<text transform="translate(652.64 680.90) scale(1.1569 1.0408)" font-size="31.90">m</text>
<text transform="translate(684.04 680.90) scale(1.0794 1.0408)" font-size="31.90">o</text>
<text transform="translate(703.83 680.90) scale(1.1036 1.0485)" font-size="31.90">d</text>
<text transform="translate(724.38 680.90) scale(1.0967 1.0408)" font-size="31.90">e</text>
<text transform="translate(744.83 680.90) scale(1.0379 1.0485)" font-size="31.90">l</text>
<text transform="translate(753.90 680.90) scale(0.9733 1.0437)" font-size="31.90">s</text>
<g transform="translate(18.9 413.9) rotate(-90)">
<text transform="translate(-1.23 0.00) scale(0.8919 1.0408)" font-size="32.40">a</text>
<text transform="translate(18.17 0.00) scale(0.9952 1.0408)" font-size="32.40">c</text>
<text transform="translate(35.83 0.00) scale(0.9952 1.0408)" font-size="32.40">c</text>
<text transform="translate(53.58 0.00) scale(1.0694 1.0601)" font-size="32.40">u</text>
<text transform="translate(73.65 0.00) scale(1.2708 1.0408)" font-size="32.40">r</text>
<text transform="translate(87.38 0.00) scale(0.8919 1.0408)" font-size="32.40">a</text>
<text transform="translate(106.77 0.00) scale(0.9952 1.0408)" font-size="32.40">c</text>
<text transform="translate(124.91 0.00) scale(1.0651 1.0351)" font-size="32.40">y</text>
</g>
</g></svg></body></html>
